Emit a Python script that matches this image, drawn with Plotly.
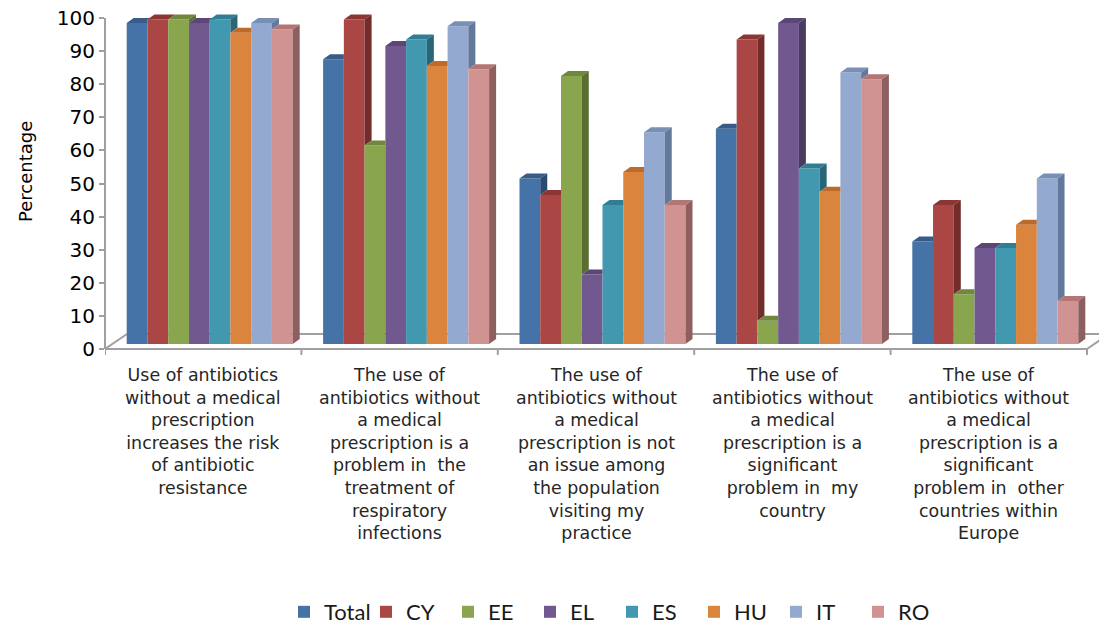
import plotly.graph_objects as go

# ---- data -------------------------------------------------------------
categories = [
    "Use of antibiotics<br>without a medical<br>prescription<br>increases the risk<br>of antibiotic<br>resistance",
    "The use of<br>antibiotics without<br>a medical<br>prescription is a<br>problem in  the<br>treatment of<br>respiratory<br>infections",
    "The use of<br>antibiotics without<br>a medical<br>prescription is not<br>an issue among<br>the population<br>visiting my<br>practice",
    "The use of<br>antibiotics without<br>a medical<br>prescription is a<br>significant<br>problem in  my<br>country",
    "The use of<br>antibiotics without<br>a medical<br>prescription is a<br>significant<br>problem in  other<br>countries within<br>Europe",
]
series_names = ["Total", "CY", "EE", "EL", "ES", "HU", "IT", "RO"]
total = [97, 86, 50, 65, 31]
cy = [98, 98, 45, 92, 42]
ee = [98, 60, 81, 7, 15]
el = [97, 90, 21, 97, 29]
es = [98, 92, 42, 53, 29]
hu = [94, 84, 52, 46, 36]
it = [97, 96, 64, 82, 50]
ro = [95, 83, 42, 80, 13]
y_ticks = [0, 10, 20, 30, 40, 50, 60, 70, 80, 90, 100]
y_title = "Percentage"

series_values = [total, cy, ee, el, es, hu, it, ro]

# front / top / side shades for each series
front_colors = ["#4572A7", "#AA4643", "#89A54E", "#71588F", "#4198AF", "#DB843D", "#93A9CF", "#D19392"]
top_colors = ["#385C88", "#8C3633", "#6F883D", "#5B4775", "#307E93", "#BD6B2B", "#7790B6", "#B47675"]
side_colors = ["#2C4A70", "#722C2A", "#5A6E31", "#4A3A60", "#286678", "#9E5722", "#63799B", "#8D5F5F"]

# ---- geometry (pixels -> axis units) -----------------------------------
PX_PER_CAT = 196.4
PX_PER_UNIT = 3.31
L, R, T, B = 105, 0, 0, 265
W, H = 1099, 625
plot_w = W - L - R
plot_h = H - T - B

x_range = [-0.5, -0.5 + plot_w / PX_PER_CAT]
y_range = [-11 / PX_PER_UNIT, 349 / PX_PER_UNIT]

BAR_W = 20.75 / PX_PER_CAT
GROUP_SHIFT = 6.5 / PX_PER_CAT
DDX = 7 / PX_PER_CAT          # receding depth of a bar, x
DDY = 5 / PX_PER_UNIT         # receding depth of a bar, y
BASE = 5 / PX_PER_UNIT        # bars stand slightly behind the floor front edge
FDX = 22 / PX_PER_CAT         # floor depth, x
FDY = 15 / PX_PER_UNIT        # floor depth, y


def bar_x(i, k):
    return i + GROUP_SHIFT + (k - 3.5) * BAR_W


def paper_y(px):
    return (plot_h - px) / plot_h


fig = go.Figure()

# front faces
for k, (name, vals) in enumerate(zip(series_names, series_values)):
    fig.add_trace(go.Bar(
        x=[bar_x(i, k) for i in range(len(vals))],
        y=vals,
        base=BASE,
        width=BAR_W,
        name=name,
        marker=dict(color=front_colors[k], line=dict(width=0)),
    ))

# visible top and side faces of each bar
n_series = len(series_values)
for k in range(n_series):
    tops_x, tops_y, sides_x, sides_y = [], [], [], []
    for i in range(len(categories)):
        top = BASE + series_values[k][i]
        xc = bar_x(i, k)
        xl, xr = xc - BAR_W / 2, xc + BAR_W / 2
        nxt = BASE + series_values[k + 1][i] if k < n_series - 1 else None

        # top face, clipped where the next bar's front hides it
        if nxt is None or nxt <= top:
            px = [xl, xr, xr + DDX, xl + DDX, xl]
            py = [top, top, top + DDY, top + DDY, top]
        elif nxt >= top + DDY:
            px = [xl, xr, xr, xl + DDX, xl]
            py = [top, top, top + DDY, top + DDY, top]
        else:
            xh = xr + (nxt - top) / DDY * DDX
            px = [xl, xr, xr, xh, xr + DDX, xl + DDX, xl]
            py = [top, top, nxt, nxt, top + DDY, top + DDY, top]
        tops_x += px + [None]
        tops_y += py + [None]

        # right side face, only the part above the next bar
        low = BASE if nxt is None else nxt
        if low < top:
            sides_x += [xr, xr, xr + DDX, xr + DDX, xr, None]
            sides_y += [low, top, top + DDY, low + DDY, low, None]

    fig.add_trace(go.Scatter(x=tops_x, y=tops_y, mode="lines", fill="toself",
                             fillcolor=top_colors[k], line=dict(width=0),
                             showlegend=False, hoverinfo="skip"))
    fig.add_trace(go.Scatter(x=sides_x, y=sides_y, mode="lines", fill="toself",
                             fillcolor=side_colors[k], line=dict(width=0),
                             showlegend=False, hoverinfo="skip"))

# floor outline and category boundary ticks
GRAY = "#A0A0A0"
x0, x1 = -0.5, len(categories) - 0.5
floor_lines = [
    (x0, 0, x1, 0),
    (x0 + FDX, FDY, x1 + FDX, FDY),
    (x0, 0, x0 + FDX, FDY),
    (x1, 0, x1 + FDX, FDY),
]
for j in range(len(categories) + 1):
    xb = x0 + j
    floor_lines.append((xb, 0, xb, -6 / PX_PER_UNIT))
shapes = [dict(type="line", xref="x", yref="y", x0=a, y0=b, x1=c, y1=d,
               line=dict(color=GRAY, width=2), layer="below")
          for a, b, c, d in floor_lines]
# value axis line
shapes.append(dict(type="line", xref="paper", yref="y", x0=0, x1=0,
                   y0=y_ticks[0], y1=y_ticks[-1], line=dict(color=GRAY, width=2)))

annotations = []
for i, lab in enumerate(categories):
    annotations.append(dict(
        x=i, xref="x", y=paper_y(363), yref="paper",
        text=lab, showarrow=False, xanchor="center", yanchor="top",
        font=dict(family="DejaVu Sans", size=17.4, color="#262626"),
    ))
annotations.append(dict(
    x=(25 - L) / plot_w, xref="paper", y=paper_y(172), yref="paper",
    text=y_title, textangle=-90, showarrow=False, xanchor="center", yanchor="middle",
    font=dict(family="DejaVu Sans", size=18, color="#000000"),
))

fig.update_layout(
    width=W, height=H,
    margin=dict(l=L, r=R, t=T, b=B, pad=0, autoexpand=False),
    paper_bgcolor="white", plot_bgcolor="white",
    barmode="overlay",
    shapes=shapes,
    annotations=annotations,
    xaxis=dict(range=x_range, visible=False, fixedrange=True),
    yaxis=dict(range=y_range, tickvals=y_ticks, ticks="outside", ticklen=5,
               tickwidth=2, tickcolor=GRAY, showgrid=False, zeroline=False,
               showline=False,
               tickfont=dict(family="DejaVu Sans", size=20, color="#000000")),
    legend=dict(orientation="h", x=(612 - L) / plot_w, xanchor="center", y=paper_y(612),
                yanchor="middle", font=dict(family="Lato", size=22, color="#1a1a1a"),
                itemwidth=30, entrywidth=37, bgcolor="rgba(0,0,0,0)"),
    showlegend=True,
)

fig.write_html("out.html")
